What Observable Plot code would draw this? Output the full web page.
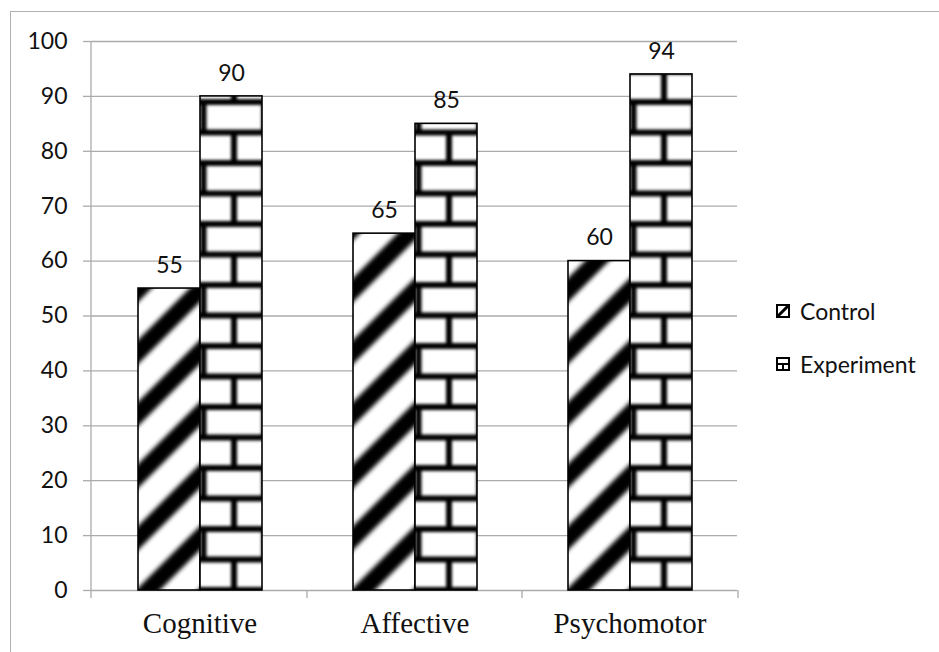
<!DOCTYPE html>
<html>
<head>
<meta charset="utf-8">
<script src="https://cdn.jsdelivr.net/npm/d3@7"></script>
<script src="https://cdn.jsdelivr.net/npm/@observablehq/plot@0.6"></script>
<style>
  html, body { margin: 0; padding: 0; background: #fff; }
  #wrap { position: relative; width: 939px; height: 652px; overflow: hidden; background: #fff; }
  #chart { position: absolute; left: 0; top: 0; }
  #frame { position: absolute; left: 10px; top: 11px; width: 1200px; height: 1000px;
           border: 1.5px solid #b0b0b0; pointer-events: none; }
  #legend { position: absolute; left: 776px; top: 298px; font-family: Lato, sans-serif;
            font-size: 23px; color: #111; }
  #legend .item { display: flex; align-items: center; height: 26px; gap: 10px; margin-bottom: 27px; }
</style>
</head>
<body>
<div id="wrap">
  <div id="chart"></div>
  <div id="legend"></div>
  <div id="frame"></div>
</div>
<script>
// Scores by learning domain for the two groups
const categories = ["Cognitive", "Affective", "Psychomotor"];
const series = ["Control", "Experiment"];
const control = [55, 65, 60];
const experiment = [90, 85, 94];
const yTicks = [0, 10, 20, 30, 40, 50, 60, 70, 80, 90, 100];

const patternIds = {Control: "hatch-diagonal", Experiment: "hatch-brick"};

const data = categories.flatMap((category, i) => [
  {category, series: "Control", value: control[i]},
  {category, series: "Experiment", value: experiment[i]}
]);

const gridColor = "#ababab";

const chart = Plot.plot({
  width: 939,
  height: 652,
  marginTop: 41,
  marginBottom: 62,
  marginLeft: 91,
  marginRight: 201,
  style: {background: "transparent", fontFamily: "Lato, sans-serif"},
  fx: {domain: categories, padding: 0, label: null},
  x: {domain: series, paddingInner: 0, paddingOuter: 0.726, axis: null},
  y: {domain: [0, 100], label: null},
  color: {domain: series, range: series.map(s => `url(#${patternIds[s]})`)},
  marks: [
    Plot.gridY(yTicks, {stroke: gridColor, strokeOpacity: 1, strokeWidth: 1.3}),
    Plot.axisY(yTicks, {
      tickSize: 9, tickPadding: 16, stroke: gridColor, strokeWidth: 1.3,
      fontSize: 23, fill: "#111", label: null
    }),
    Plot.axisFx({
      anchor: "bottom", tickSize: 0, tickPadding: 22, fontSize: 29,
      fontFamily: "Liberation Serif, serif", fill: "#111", label: null
    }),
    Plot.barY(data, {
      fx: "category", x: "series", y: "value", fill: "series",
      stroke: "#000", strokeWidth: 1.6
    }),
    Plot.text(data, {
      fx: "category", x: "series", y: "value", text: d => String(d.value),
      dy: -23, fontSize: 23, fill: "#111"
    })
  ]
});

document.getElementById("chart").appendChild(chart);

// Axis line and category boundary ticks, placed with the chart's own scales
const svg = d3.select(chart);
const fx = chart.scale("fx");
const y = chart.scale("y");
const y0 = y.apply(0);
const tickLen = 8;
const axisG = svg.append("g").attr("stroke", gridColor).attr("stroke-width", 1.3);
axisG.append("line")
  .attr("x1", fx.range[0]).attr("x2", fx.range[0])
  .attr("y1", y.apply(100)).attr("y2", y0 + tickLen);
const bounds = categories.map(c => fx.apply(c)).concat([fx.range[1]]);
axisG.selectAll("line.b").data(bounds.slice(1)).join("line")
  .attr("class", "b")
  .attr("x1", d => d).attr("x2", d => d)
  .attr("y1", y0).attr("y2", y0 + tickLen);

// Fill patterns, anchored at the bottom-left corner of each bar
const defs = svg.insert("defs", ":first-child");
function softFilter(id, sd) {
  defs.append("filter")
    .attr("id", id)
    .attr("x", "-50%").attr("y", "-50%").attr("width", "200%").attr("height", "200%")
    .append("feGaussianBlur").attr("stdDeviation", sd);
}
softFilter("soft-stripe", 2);
softFilter("soft-brick", 1.6);

function barBox(s) {
  const rect = svg.selectAll("rect").filter(function () {
    return this.getAttribute("fill") === `url(#${patternIds[s]})`;
  }).node();
  const x = +rect.getAttribute("x");
  const w = +rect.getAttribute("width");
  const yTop = +rect.getAttribute("y");
  const h = +rect.getAttribute("height");
  return {x, w, base: yTop + h};
}

// Diagonal stripes for the control group: one stripe per bar width
{
  const {x, w, base} = barBox("Control");
  const p = defs.append("pattern")
    .attr("id", patternIds.Control)
    .attr("patternUnits", "userSpaceOnUse")
    .attr("x", x).attr("y", base)
    .attr("width", w).attr("height", w);
  p.append("rect").attr("width", w).attr("height", w).attr("fill", "#fff");
  const g = p.append("g").attr("filter", "url(#soft-stripe)")
    .attr("stroke", "#000").attr("stroke-width", 17);
  const off = 10;
  for (const k of [-1, 0, 1, 2]) {
    const c = off + k * w;
    g.append("line")
      .attr("x1", c + w + 20).attr("y1", -w - 20)
      .attr("x2", c - w - 20).attr("y2", w + 20);
  }
}

// Brick pattern for the experiment group
{
  const {x, base} = barBox("Experiment");
  const tile = 61, half = tile / 2;
  const p = defs.append("pattern")
    .attr("id", patternIds.Experiment)
    .attr("patternUnits", "userSpaceOnUse")
    .attr("x", x).attr("y", base)
    .attr("width", tile).attr("height", tile);
  p.append("rect").attr("width", tile).attr("height", tile).attr("fill", "#fff");
  const g = p.append("g").attr("filter", "url(#soft-brick)")
    .attr("stroke", "#000").attr("stroke-width", 6);
  for (const yy of [0, half, tile]) {
    g.append("line").attr("x1", -10).attr("x2", tile + 10).attr("y1", yy).attr("y2", yy);
  }
  const dFull = 3.5, dSplit = dFull + half;
  for (const dx of [dFull, dFull + tile]) {
    g.append("line").attr("x1", dx).attr("x2", dx).attr("y1", -5).attr("y2", half);
  }
  g.append("line").attr("x1", dSplit).attr("x2", dSplit).attr("y1", half).attr("y2", tile + 5);
}

// Legend
const legend = d3.select("#legend");
series.forEach(s => {
  const item = legend.append("div").attr("class", "item");
  const sw = item.append("svg").attr("width", 14).attr("height", 14);
  sw.append("rect").attr("x", 1).attr("y", 1).attr("width", 12).attr("height", 12)
    .attr("fill", "#fff").attr("stroke", "#000").attr("stroke-width", 2);
  if (s === "Control") {
    sw.append("line").attr("x1", 1.5).attr("y1", 12.5).attr("x2", 12.5).attr("y2", 1.5)
      .attr("stroke", "#000").attr("stroke-width", 3);
  } else {
    sw.append("line").attr("x1", 1).attr("x2", 13).attr("y1", 7).attr("y2", 7)
      .attr("stroke", "#000").attr("stroke-width", 2);
    sw.append("line").attr("x1", 7).attr("x2", 7).attr("y1", 7).attr("y2", 13)
      .attr("stroke", "#000").attr("stroke-width", 2);
  }
  item.append("span").text(s);
});
</script>
</body>
</html>
